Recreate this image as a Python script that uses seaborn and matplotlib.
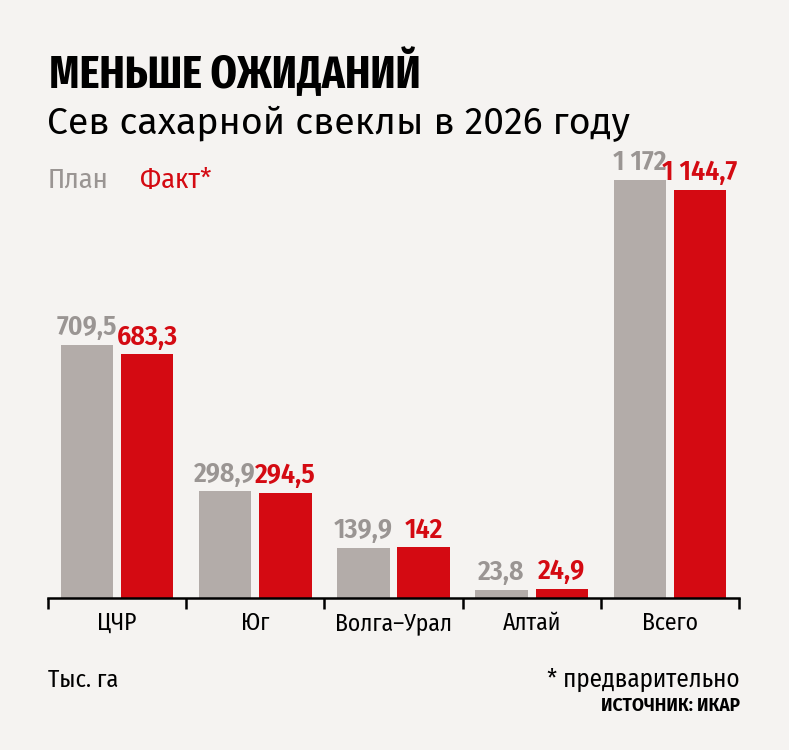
import pandas as pd
import numpy as np
import seaborn as sns
import matplotlib.pyplot as plt

# .:: Data ::.
regions = ["ЦЧР", "Юг", "Волга–Урал", "Алтай", "Всего"]
plan = [709.5, 298.9, 139.9, 23.8, 1172]
fact = [683.3, 294.5, 142, 24.9, 1144.7]
plan_labels = ["709,5", "298,9", "139,9", "23,8", "1 172"]
fact_labels = ["683,3", "294,5", "142", "24,9", "1 144,7"]

df = pd.DataFrame({
    "region": regions * 2,
    "value": plan + fact,
    "series": ["План"] * len(regions) + ["Факт"] * len(regions),
})

BG = "#f5f3f1"
GREY = "#b3aca9"
GREY_TXT = "#9a9593"
RED = "#d40a12"

COND = ["Fira Sans Condensed", "Roboto Condensed", "DejaVu Sans"]
XCOND = ["Fira Sans Extra Condensed", "Fira Sans Condensed", "Roboto Condensed", "DejaVu Sans"]
WIDE = ["Fira Sans", "Roboto", "DejaVu Sans"]

sns.set_theme(style="white")
plt.rcParams["font.family"] = COND

fig = plt.figure(figsize=(7.89, 7.5), dpi=100, facecolor=BG)
ax = fig.add_axes([48 / 789, 1 - 598 / 750, (739 - 48) / 789, (598 - 170) / 750])
ax.set_facecolor(BG)

sns.barplot(data=df, x="region", y="value", hue="series",
            palette=[GREY, RED], width=0.87, gap=0.13,
            legend=False, ax=ax, saturation=1, linewidth=0)

ax.set_ylim(0, 1200)
ax.set_xlim(-0.5, len(regions) - 0.5)

# .:: Value labels ::.
for cont, labels, col in zip(ax.containers, [plan_labels, fact_labels], [GREY_TXT, RED]):
    ax.bar_label(cont, labels=labels, padding=3, color=col,
                 fontsize=20, fontweight="semibold")

# .:: Axis styling ::.
for s in ["top", "right", "left"]:
    ax.spines[s].set_visible(False)
ax.spines["bottom"].set_color("black")
ax.spines["bottom"].set_linewidth(1.8)
ax.set_yticks([])
ax.set_xlabel("")
ax.set_ylabel("")
ax.set_xticks(np.arange(-0.5, len(regions)), minor=True)
ax.tick_params(axis="x", which="major", length=0, labelsize=17, pad=10, colors="black")
ax.tick_params(axis="x", which="minor", length=8, width=1.8, direction="out",
               color="black", bottom=True)

# .:: Titles and notes ::.
fig.text(49 / 789, 1 - 73 / 750, "МЕНЬШЕ ОЖИДАНИЙ", fontsize=33, fontweight="bold",
         va="center", ha="left", color="black", family=XCOND)
fig.text(47 / 789, 1 - 124 / 750, "Сев сахарной свеклы в 2026 году", fontsize=27,
         va="center", ha="left", color="black", family=WIDE)
fig.text(48 / 789, 1 - 180 / 750, "План", fontsize=20.5, va="center", ha="left", color=GREY_TXT)
fig.text(140 / 789, 1 - 180 / 750, "Факт*", fontsize=20.5, va="center", ha="left", color=RED)
fig.text(48 / 789, 1 - 680 / 750, "Тыс. га", fontsize=17.5, va="center", ha="left", color="black")
fig.text(740 / 789, 1 - 680 / 750, "* предварительно", fontsize=18, va="center", ha="right",
         color="black")
fig.text(740 / 789, 1 - 706 / 750, "ИСТОЧНИК: ИКАР", fontsize=12.5, fontweight="bold",
         va="center", ha="right", color="black", family=WIDE)

fig.savefig("out.png", dpi=100, facecolor=BG)
